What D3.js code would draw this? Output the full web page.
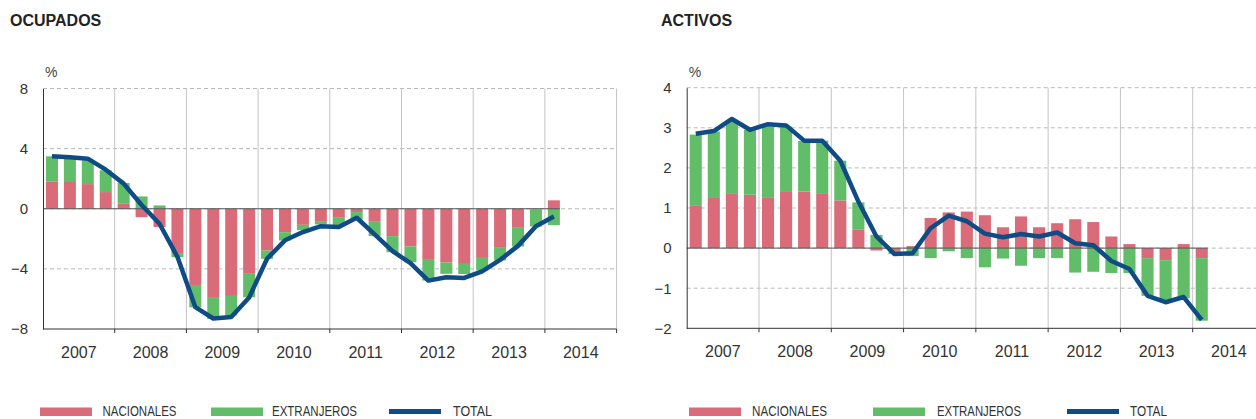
<!DOCTYPE html>
<html>
<head>
<meta charset="utf-8">
<script src="https://cdn.jsdelivr.net/npm/d3@7/dist/d3.min.js"></script>
<style>
  html, body { margin: 0; padding: 0; background: #fff; }
  svg { display: block; font-family: "Liberation Sans", Arial, Helvetica, sans-serif; }
</style>
</head>
<body>
<svg id="chart" width="1256" height="419"></svg>
<script>
// ---------- DATA ----------
const years = ["2007", "2008", "2009", "2010", "2011", "2012", "2013", "2014"];
const quarterNames = ["I", "II", "III", "IV"];

const ocupTicks = [8, 4, 0, -4, -8];
const actTicks = [4, 3, 2, 1, 0, -1, -2];

// OCUPADOS (2007 I – 2014 I)
const ocupNacionales = [1.82, 1.84, 1.64, 1.11, 0.33, -0.56, -1.22, -3.0, -5.07, -5.93, -5.8, -4.33,
  -2.78, -1.56, -1.07, -0.82, -0.6, -0.22, -0.82, -1.82, -2.51, -3.4, -3.58, -3.67,
  -3.27, -2.6, -1.27, -0.04, 0.56];
const ocupExtranjeros = [1.67, 1.56, 1.58, 1.45, 1.38, 0.82, 0.22, -0.22, -1.49, -1.4, -1.3, -1.56,
  -0.55, -0.55, -0.35, -0.22, -0.5, -0.5, -1.0, -1.07, -1.05, -1.38, -0.75, -0.67,
  -0.84, -0.84, -1.24, -1.14, -1.09];
const ocupTotal = [3.5, 3.42, 3.33, 2.6, 1.67, 0.25, -1.0, -3.2, -6.55, -7.3, -7.2, -5.9,
  -3.33, -2.1, -1.55, -1.16, -1.22, -0.6, -1.7, -2.82, -3.62, -4.78, -4.56, -4.6,
  -4.16, -3.4, -2.47, -1.16, -0.51];

// ACTIVOS (2007 I – 2014 I)
const actNacionales = [1.07, 1.25, 1.37, 1.33, 1.27, 1.40, 1.41, 1.37, 1.19, 0.47, -0.06, -0.07,
  0.05, 0.75, 0.89, 0.91, 0.82, 0.52, 0.79, 0.52, 0.62, 0.72, 0.65, 0.29,
  0.10, -0.25, -0.30, 0.10, -0.25];
const actExtranjeros = [1.76, 1.66, 1.81, 1.62, 1.76, 1.63, 1.26, 1.31, 0.99, 0.67, 0.33, -0.08,
  -0.2, -0.25, -0.08, -0.25, -0.48, -0.26, -0.44, -0.25, -0.25, -0.61, -0.59, -0.62,
  -0.62, -0.94, -0.99, -1.25, -1.56];
const actTotal = [2.85, 2.92, 3.22, 2.95, 3.09, 3.06, 2.68, 2.68, 2.18, 1.16, 0.29, -0.15,
  -0.13, 0.5, 0.81, 0.67, 0.36, 0.27, 0.35, 0.29, 0.39, 0.12, 0.07, -0.32,
  -0.52, -1.19, -1.35, -1.22, -1.79];

const legendLabels = ["NACIONALES", "EXTRANJEROS", "TOTAL"];
const colors = { nac: "#d96c78", ext: "#62bd69", tot: "#0f4c86" };

// ---------- DRAW ----------
const svg = d3.select("#chart");
const allQuarters = years.flatMap(y => quarterNames.map(q => y + "-" + q));

function panel(cfg) {
  const g = svg.append("g");
  const n = cfg.nac.length;
  const keys = allQuarters.slice(0, n);

  const x = d3.scaleBand().domain(allQuarters).range([cfg.x0, cfg.x1])
    .paddingInner(0.33).paddingOuter(0.165);
  const xYear = d3.scaleBand().domain(years).range([cfg.x0, cfg.x1]);
  const y = d3.scaleLinear().domain(cfg.domain).range([cfg.yBot, cfg.yTop]);
  const right = Math.min(cfg.x1, 1256);

  // title
  g.append("text").attr("x", cfg.titleX).attr("y", 26)
    .attr("font-size", 16).attr("font-weight", "bold").attr("fill", "#222")
    .text(cfg.title);
  g.append("text").attr("x", cfg.x0 + 2).attr("y", 77)
    .attr("font-size", 14).attr("fill", "#444").text("%");

  // horizontal dashed grid
  g.append("g").selectAll("line").data(cfg.ticks.filter(t => t !== cfg.domain[0]))
    .join("line")
    .attr("x1", cfg.x0).attr("x2", right)
    .attr("y1", d => y(d)).attr("y2", d => y(d))
    .attr("stroke", "#b9b9b9").attr("stroke-width", 1).attr("stroke-dasharray", "4,3");

  // vertical year grid
  g.append("g").selectAll("line").data(years.slice(1).concat(["end"]))
    .join("line")
    .attr("x1", d => d === "end" ? cfg.x1 : xYear(d))
    .attr("x2", d => d === "end" ? cfg.x1 : xYear(d))
    .attr("y1", cfg.yTop).attr("y2", cfg.yBot)
    .attr("stroke", "#c4c4c4").attr("stroke-width", 1);

  // stacked diverging bars
  const rows = keys.map((k, i) => ({ key: k, nac: cfg.nac[i], ext: cfg.ext[i] }));
  const stack = d3.stack().keys(["nac", "ext"]).offset(d3.stackOffsetDiverging);
  const series = stack(rows);
  g.append("g").selectAll("g").data(series).join("g")
    .attr("fill", s => colors[s.key])
    .selectAll("rect").data(s => s).join("rect")
    .attr("x", d => x(d.data.key))
    .attr("width", x.bandwidth())
    .attr("y", d => y(Math.max(d[0], d[1])))
    .attr("height", d => Math.abs(y(d[0]) - y(d[1])));

  // zero line
  const lastKey = keys[n - 1];
  g.append("line")
    .attr("x1", cfg.x0).attr("x2", x(lastKey) + x.bandwidth())
    .attr("y1", y(0)).attr("y2", y(0))
    .attr("stroke", "#555").attr("stroke-width", 1);

  // total line
  const line = d3.line()
    .x((d, i) => x(keys[i]) + x.bandwidth() / 2)
    .y(d => y(d));
  g.append("path").datum(cfg.tot)
    .attr("d", line).attr("fill", "none")
    .attr("stroke", colors.tot).attr("stroke-width", 4.5)
    .attr("stroke-linejoin", "round");

  // left axis
  const yAxis = d3.axisLeft(y).tickValues(cfg.ticks).tickSize(0).tickPadding(15)
    .tickFormat(d3.format("d"));
  const ga = g.append("g").attr("transform", `translate(${cfg.x0},0)`).call(yAxis);
  ga.select(".domain").attr("stroke", "#333");
  ga.selectAll("text").attr("font-size", 15).attr("fill", "#333")
    .attr("font-family", "'Liberation Sans', Arial, sans-serif");

  // bottom axis
  g.append("line").attr("x1", cfg.x0).attr("x2", right)
    .attr("y1", cfg.yBot).attr("y2", cfg.yBot).attr("stroke", "#333").attr("stroke-width", 1);
  g.append("g").selectAll("line").data(years.slice(1).concat(["end"]))
    .join("line")
    .attr("x1", d => d === "end" ? cfg.x1 : xYear(d))
    .attr("x2", d => d === "end" ? cfg.x1 : xYear(d))
    .attr("y1", cfg.yBot).attr("y2", cfg.yBot + 4)
    .attr("stroke", "#333").attr("stroke-width", 1);
  const xAxis = d3.axisBottom(xYear).tickSize(0).tickPadding(0);
  const gx = g.append("g").attr("transform", `translate(0,${cfg.yBot})`).call(xAxis);
  gx.select(".domain").remove();
  gx.selectAll("text").attr("font-size", 16).attr("fill", "#333")
    .attr("dy", 0).attr("y", 29)
    .attr("font-family", "'Liberation Sans', Arial, sans-serif");

  // legend
  const L = cfg.legend;
  g.append("rect").attr("x", L.sw[0]).attr("y", 407.5).attr("width", L.swW).attr("height", 8.5)
    .attr("fill", colors.nac);
  g.append("rect").attr("x", L.sw[1]).attr("y", 407.5).attr("width", L.swW).attr("height", 8.5)
    .attr("fill", colors.ext);
  g.append("line").attr("x1", L.sw[2]).attr("x2", L.sw[2] + L.swW)
    .attr("y1", 411.5).attr("y2", 411.5).attr("stroke", colors.tot).attr("stroke-width", 5);
  legendLabels.forEach((lab, i) => {
    g.append("text").attr("x", L.tx[i]).attr("y", 416)
      .attr("font-size", 14).attr("fill", "#333")
      .attr("textLength", L.tw[i]).attr("lengthAdjust", "spacingAndGlyphs")
      .text(lab);
  });
}

panel({
  title: "OCUPADOS", titleX: 10,
  x0: 43, x1: 616.6, yTop: 88.5, yBot: 329,
  domain: [-8, 8], ticks: ocupTicks,
  nac: ocupNacionales, ext: ocupExtranjeros, tot: ocupTotal,
  legend: { sw: [40, 211, 389], swW: 52, tx: [102.5, 272, 453], tw: [74, 85, 39] }
});

panel({
  title: "ACTIVOS", titleX: 661,
  x0: 686.7, x1: 1265, yTop: 87.7, yBot: 328.3,
  domain: [-2, 4], ticks: actTicks,
  nac: actNacionales, ext: actExtranjeros, tot: actTotal,
  legend: { sw: [689, 873, 1067], swW: 52, tx: [752, 937, 1130], tw: [75, 84, 37] }
});
</script>
</body>
</html>
